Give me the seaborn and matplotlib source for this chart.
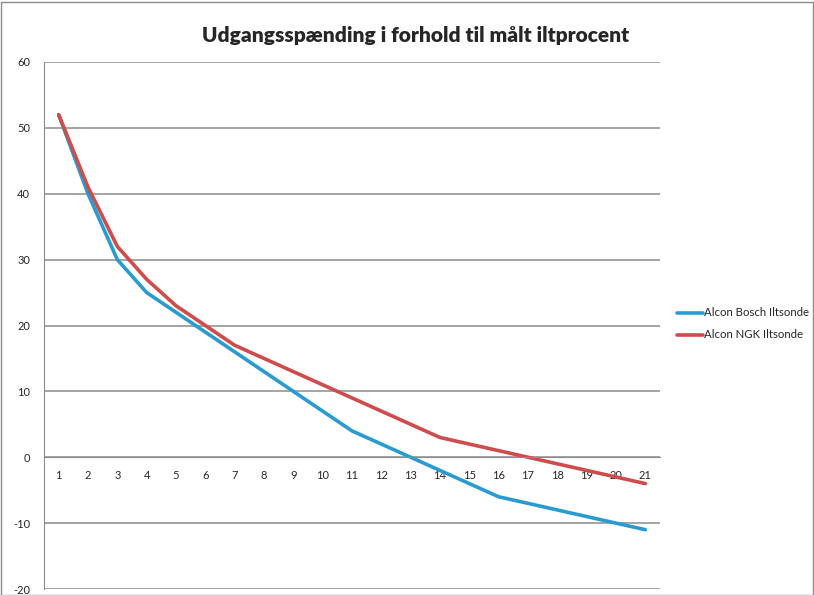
import pandas as pd
import matplotlib.pyplot as plt
import seaborn as sns
from matplotlib.patches import Rectangle

# data
maalinger = list(range(1, 22))
bosch = [52, 40, 30, 25, 22, 19, 16, 13, 10, 7, 4, 2, 0, -2, -4, -6, -7, -8, -9, -10, -11]
ngk = [52, 41, 32, 27, 23, 20, 17, 15, 13, 11, 9, 7, 5, 3, 2, 1, 0, -1, -2, -3, -4]
serier = ['Alcon Bosch Iltsonde', 'Alcon NGK Iltsonde']
farver = ['#2A9BD0', '#D04B4B']

df = pd.concat([
    pd.DataFrame({'x': maalinger, 'y': bosch, 'serie': serier[0]}),
    pd.DataFrame({'x': maalinger, 'y': ngk, 'serie': serier[1]}),
])

sns.set_style("white")
plt.rcParams['font.family'] = ['Lato', 'DejaVu Sans']
plt.rcParams['axes.unicode_minus'] = False

fig = plt.figure(figsize=(8.14, 5.95), dpi=100)
ax = fig.add_axes([44 / 814, 6 / 595, 616 / 814, 527 / 595])

sns.lineplot(data=df, x='x', y='y', hue='serie', palette=farver,
             linewidth=2.6, ax=ax, legend=False)

ax.set_xlim(0.5, 21.5)
ax.set_ylim(-20, 60)
ax.set_yticks(range(-20, 61, 10))
ax.set_xticks(maalinger)
ax.yaxis.grid(True, color='#8C8C8C', linewidth=1.1)
ax.set_axisbelow(True)
for s in ['top', 'right']:
    ax.spines[s].set_visible(False)
ax.spines['left'].set_color('#8C8C8C')
ax.spines['bottom'].set_color('#8C8C8C')
ax.spines['bottom'].set_position(('data', 0))
ax.tick_params(axis='x', length=0, labelsize=8, pad=9)
ax.tick_params(axis='y', length=0, labelsize=8, pad=10)
ax.set_xlabel('')
ax.set_ylabel('')

fig.text(0.511, 0.94, 'Udgangsspænding i forhold til målt iltprocent',
         ha='center', va='center', fontsize=15, fontweight='heavy')

# legend
for i, (navn, farve) in enumerate(zip(serier, farver)):
    yy = 1 - (313 + 22 * i) / 595
    fig.add_artist(plt.Line2D([677 / 814, 703 / 814], [yy, yy], color=farve,
                              linewidth=2.6, transform=fig.transFigure))
    fig.text(704 / 814, yy, navn, ha='left', va='center', fontsize=8.2)

fig.add_artist(Rectangle((0.5 / 814, 0.5 / 595), 812 / 814, 593 / 595,
                         transform=fig.transFigure, fill=False,
                         edgecolor='#8C8C8C', linewidth=1))

fig.savefig('out.png', dpi=100)
